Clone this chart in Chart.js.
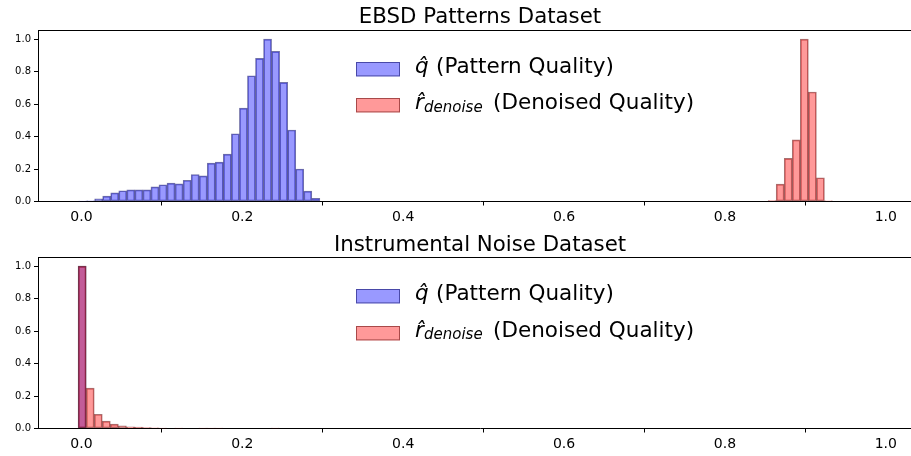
<!DOCTYPE html>
<html>
<head>
<meta charset="utf-8">
<script src="https://cdn.jsdelivr.net/npm/chart.js@4.4.1/dist/chart.umd.min.js"></script>
<style>
  html, body { margin: 0; padding: 0; background: #fff; overflow: hidden; width: 911px; height: 456px; }
  .panel { position: absolute; left: 0; width: 925px; height: 228px; }
  #top-panel { top: 0; }
  #bottom-panel { top: 227px; }
</style>
</head>
<body>
<div class="panel" id="top-panel"><canvas id="ebsdChart" width="925" height="228"></canvas></div>
<div class="panel" id="bottom-panel"><canvas id="noiseChart" width="925" height="228"></canvas></div>
<script>
// Histogram bin centres (bin width 0.01) and normalised counts

// EBSD patterns: q-hat
const ebsdQBins = [0.0014, 0.0114, 0.0214, 0.0314, 0.0414, 0.0514, 0.0614, 0.0714, 0.0814, 0.0914,
                   0.1014, 0.1114, 0.1214, 0.1314, 0.1414, 0.1514, 0.1614, 0.1714, 0.1814, 0.1914,
                   0.2014, 0.2114, 0.2214, 0.2314, 0.2414, 0.2514, 0.2614, 0.2714, 0.2814, 0.2914];
const ebsdQValues = [0.002, 0.004, 0.016, 0.033, 0.053, 0.066, 0.072, 0.072, 0.072, 0.090,
                     0.103, 0.113, 0.109, 0.131, 0.166, 0.158, 0.236, 0.242, 0.292, 0.417,
                     0.575, 0.774, 0.881, 1.000, 0.924, 0.733, 0.440, 0.200, 0.064, 0.020];

// EBSD patterns: r-hat denoise
const ebsdRBins = [0.8587, 0.8687, 0.8787, 0.8887, 0.8987, 0.9087, 0.9187, 0.9287];
const ebsdRValues = [0.005, 0.107, 0.266, 0.379, 1.000, 0.674, 0.146, 0.004];

// Instrumental noise: q-hat
const noiseQBins = [0.0009];
const noiseQValues = [1.0];

// Instrumental noise: r-hat denoise
const noiseRBins = [0.0009, 0.0109, 0.0209, 0.0309, 0.0409, 0.0509, 0.0609, 0.0709, 0.0809, 0.0909,
                    0.1009, 0.1109, 0.1209, 0.1309, 0.1409, 0.1509, 0.1609, 0.1709, 0.1809, 0.1909,
                    0.2009, 0.2109, 0.2209, 0.2309, 0.2409];
const noiseRValues = [1.000, 0.249, 0.088, 0.045, 0.027, 0.016, 0.010, 0.009, 0.006, 0.004,
                      0.002, 0.000, 0.002, 0.000, 0.000, 0.002, 0.002, 0.002, 0.000, 0.000,
                      0.000, 0.000, 0.000, 0.000, 0.002];

const xTicks = [0.0, 0.2, 0.4, 0.6, 0.8, 1.0];
const yTicks = [0.0, 0.2, 0.4, 0.6, 0.8, 1.0];

const Q_FILL = 'rgba(0, 0, 255, 0.4)';
const Q_EDGE = 'rgba(20, 20, 110, 0.6)';
const R_FILL = 'rgba(255, 0, 0, 0.4)';
const R_EDGE = 'rgba(110, 20, 20, 0.6)';
const FONT = '"DejaVu Sans", sans-serif';

// top + right spines (matplotlib style box)
const frameSpines = {
    id: 'frameSpines',
    afterDraw(chart) {
        const { ctx, chartArea } = chart;
        ctx.save();
        ctx.strokeStyle = '#000';
        ctx.lineWidth = 1;
        ctx.beginPath();
        const t = Math.floor(chartArea.top) + 0.5;
        ctx.moveTo(chartArea.left, t);
        ctx.lineTo(chartArea.right, t);
        ctx.lineTo(chartArea.right, chartArea.bottom);
        ctx.stroke();
        ctx.restore();
    }
};

// legend with math-style labels (hat + subscript)
const mathLegend = {
    id: 'mathLegend',
    afterDraw(chart, args, opts) {
        const ctx = chart.ctx;
        const base1 = opts.baseline;
        const base2 = base1 + 36.5;
        const boxH = 14.4;
        ctx.save();
        [[Q_FILL, Q_EDGE, base1], [R_FILL, R_EDGE, base2]].forEach(([fill, edge, base]) => {
            const y = Math.round(base - 3.5 - boxH / 2);
            ctx.fillStyle = fill;
            ctx.fillRect(356, y, 44, boxH);
            ctx.strokeStyle = edge;
            ctx.lineWidth = 1;
            ctx.strokeRect(356.5, y + 0.5, 43, boxH - 1);
        });

        ctx.fillStyle = '#000';
        ctx.textAlign = 'left';
        ctx.textBaseline = 'alphabetic';

        ctx.font = 'italic 21.5px ' + FONT;
        ctx.fillText('q\u0302', 415, base1);
        ctx.font = '21.5px ' + FONT;
        ctx.fillText('(Pattern Quality)', 436, base1);

        ctx.font = 'italic 21.5px ' + FONT;
        ctx.fillText('r\u0302', 415, base2);
        ctx.font = 'italic 15px ' + FONT;
        ctx.fillText('denoise', 424, base2 + 2.5);
        ctx.font = '21.5px ' + FONT;
        ctx.fillText('(Denoised Quality)', 493, base2);
        ctx.restore();
    }
};

function toPoints(bins, values) {
    return bins.map((b, i) => ({ x: b, y: values[i] }));
}

function axisGrid() {
    return {
        display: true,
        drawOnChartArea: false,
        drawTicks: true,
        tickLength: 4,
        tickColor: '#000',
        tickWidth: 1
    };
}

function makeChart(canvasId, title, qBins, qValues, rBins, rValues, legendBaseline, titleTop) {
    const ctx = document.getElementById(canvasId).getContext('2d');
    return new Chart(ctx, {
        type: 'bar',
        data: {
            datasets: [
                {
                    label: 'q (Pattern Quality)',
                    data: toPoints(qBins, qValues),
                    backgroundColor: Q_FILL,
                    borderColor: Q_EDGE,
                    borderWidth: 1,
                    borderSkipped: false,
                    order: 2
                },
                {
                    label: 'r denoise (Denoised Quality)',
                    data: toPoints(rBins, rValues),
                    backgroundColor: R_FILL,
                    borderColor: R_EDGE,
                    borderWidth: 1,
                    borderSkipped: false,
                    order: 1
                }
            ]
        },
        options: {
            responsive: false,
            animation: false,
            devicePixelRatio: 1,
            grouped: false,
            barPercentage: 1.0,
            categoryPercentage: 1.0,
            layout: { padding: { left: 0, right: 3, top: 0, bottom: 0 } },
            scales: {
                x: {
                    type: 'linear',
                    min: -0.054,
                    max: 1.045,
                    offset: false,
                    grid: axisGrid(),
                    border: { display: true, color: '#000', width: 1 },
                    ticks: {
                        color: '#000',
                        font: { family: FONT, size: 14 },
                        padding: 3,
                        maxRotation: 0,
                        callback: v => v.toFixed(1)
                    },
                    afterBuildTicks: s => { s.ticks = xTicks.map(v => ({ value: v })); },
                    afterFit: s => { s.height = 26.5; }
                },
                y: {
                    type: 'linear',
                    min: 0,
                    max: 1.05,
                    grid: axisGrid(),
                    border: { display: true, color: '#000', width: 1 },
                    ticks: {
                        color: '#000',
                        font: { family: FONT, size: 10 },
                        padding: 3,
                        callback: v => v.toFixed(1)
                    },
                    afterBuildTicks: s => { s.ticks = yTicks.map(v => ({ value: v })); },
                    afterFit: s => { s.width = 38; }
                }
            },
            plugins: {
                legend: { display: false },
                tooltip: { enabled: false },
                title: {
                    display: true,
                    text: title,
                    fullSize: false,
                    color: '#000',
                    font: { family: FONT, size: 21.3, weight: 'normal' },
                    padding: { top: titleTop, bottom: 5.4 - titleTop }
                },
                mathLegend: { baseline: legendBaseline }
            }
        },
        plugins: [frameSpines, mathLegend]
    });
}

makeChart('ebsdChart', 'EBSD Patterns Dataset', ebsdQBins, ebsdQValues, ebsdRBins, ebsdRValues, 72.5, 4.3);
makeChart('noiseChart', 'Instrumental Noise Dataset', noiseQBins, noiseQValues, noiseRBins, noiseRValues, 73, 5.3);
</script>
</body>
</html>
